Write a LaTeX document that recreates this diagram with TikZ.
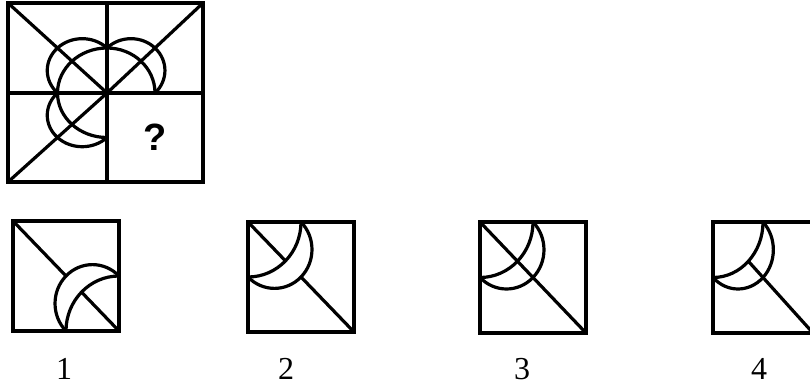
\documentclass[tikz,border=0pt]{standalone}
\usepackage{fontspec}
\setmainfont{Liberation Serif}
\newfontfamily\qfont{Liberation Sans}
\tikzset{
  fig/line/.style={line width=3.2pt, line join=miter},
  fig/num/.style={font=\fontsize{32}{34}\selectfont, inner sep=0pt},
  fig/query/.style={font=\qfont\bfseries\fontsize{38}{40}\selectfont, inner sep=0pt}
}
% crescent in the corner (#1,#2) of a cell, half sides #3 and #4 (signed),
% #5 = the parts of the cell diagonal that are drawn, in cell units
\newcommand{\moon}[5]{%
  \begin{scope}[shift={(#1,#2)}, xscale=#3, yscale=#4]
    \draw[fig/line] (1,0) arc[start angle=0, end angle=90, radius=1];
    \draw[fig/line] (1,0) arc[start angle=-45, end angle=135, radius=0.7071];
    \draw[fig/line] #5;
  \end{scope}}

\begin{document}
\begin{tikzpicture}[x=1pt, y=-1pt]
  \useasboundingbox (0,0) rectangle (810,387);
  \clip (0,0) rectangle (810,387);

  % question figure
  \draw[fig/line] (8,3) rectangle (203,182);
  \draw[fig/line] (107,3) -- (107,182);
  \draw[fig/line] (8,93) -- (203,93);
  \moon{107}{93}{-49.5}{-45}{(0,0) -- (2,2)}
  \moon{107}{93}{48}{-45}{(0,0) -- (2,2)}
  \moon{107}{93}{-49.5}{44.5}{(0,0) -- (2,2)}
  \node[fig/query] (query) at (155,137) {?};

  % answer figures
  \draw[fig/line] (13,221) rectangle (119,331);
  \moon{119}{331}{-53}{-55}{(2,2) -- (1,1) (0.7071,0.7071) -- (0,0)}
  \draw[fig/line] (248,222) rectangle (354,332);
  \moon{248}{222}{53}{55}{(0,0) -- (0.7071,0.7071) (1,1) -- (2,2)}
  \draw[fig/line] (480,222) rectangle (586,333);
  \moon{480}{222}{53}{55.5}{(0,0) -- (2,2)}
  \draw[fig/line] (713,222) rectangle (813,333);
  \moon{713}{222}{50}{55.5}{(0.7071,0.7071) -- (2,2)}

  \node[fig/num] (num1) at (64,369) {1};
  \node[fig/num] (num2) at (286,369) {2};
  \node[fig/num] (num3) at (522,369) {3};
  \node[fig/num] (num4) at (759,369) {4};
\end{tikzpicture}
\end{document}
